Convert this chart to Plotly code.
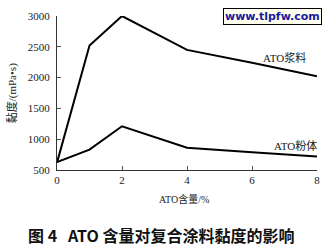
import plotly.graph_objects as go

ato = [0, 1, 2, 4, 6, 8]
slurry = [620, 2520, 3000, 2450, 2240, 2020]
ato_p = [0, 1, 2, 4, 6, 8]
powder = [630, 830, 1210, 860, 790, 720]
yticks = [500, 1000, 1500, 2000, 2500, 3000]
xticks = [0, 2, 4, 6, 8]

serif = "Liberation Serif, Noto Sans CJK SC"
fig = go.Figure()
fig.add_trace(go.Scatter(x=ato, y=slurry, mode="lines",
                         line=dict(color="black", width=2), showlegend=False))
fig.add_trace(go.Scatter(x=ato_p, y=powder, mode="lines",
                         line=dict(color="black", width=2), showlegend=False))

fig.add_annotation(x=7.0, y=2330, text="ATO浆料", showarrow=False,
                   font=dict(family=serif, size=11, color="#222"))
fig.add_annotation(x=7.35, y=890, text="ATO粉体", showarrow=False,
                   font=dict(family=serif, size=11, color="#222"))
fig.add_annotation(xref="paper", yref="paper", x=0.487, y=-0.19, yanchor="middle",
                   text="ATO含量/%", showarrow=False,
                   font=dict(family=serif, size=10, color="#222"))
fig.add_annotation(xref="paper", yref="paper", x=-0.172, y=0.5, textangle=-90,
                   xanchor="center", yanchor="middle",
                   text="黏度/(mPa•s)", showarrow=False,
                   font=dict(family=serif, size=11, color="#222"))
fig.add_annotation(xref="paper", yref="paper", x=0.40, y=-0.42, yanchor="middle",
                   text="<b>图 4&nbsp;&nbsp;&nbsp;ATO 含量对复合涂料黏度的影响</b>", showarrow=False,
                   font=dict(family="Noto Sans CJK SC", size=16, color="#111"))
fig.add_annotation(xref="paper", yref="paper", x=1.02, y=1.05, xanchor="right", yanchor="top",
                   text="<b>www.tlpfw.com</b>", showarrow=False,
                   bgcolor="#fffff0", bordercolor="black", borderwidth=1, borderpad=1,
                   font=dict(family="DejaVu Sans", size=11, color="#1a1aa0"))

fig.update_xaxes(range=[0, 8], tickvals=xticks, ticks="inside", ticklen=4,
                 showline=True, linecolor="#333", linewidth=1, showgrid=False,
                 zeroline=False, tickfont=dict(family=serif, size=11, color="#222"),
                 tickcolor="#555")
fig.update_yaxes(range=[500, 3000], tickvals=yticks, ticks="inside", ticklen=4,
                 ticklabelstandoff=4,
                 showline=True, linecolor="#333", linewidth=1, showgrid=False,
                 zeroline=False, tickfont=dict(family=serif, size=11, color="#222"),
                 tickcolor="#555")
fig.update_layout(width=330, height=247, margin=dict(l=57, r=10, t=11, b=77),
                  paper_bgcolor="white", plot_bgcolor="white")
fig.write_html("out.html")
